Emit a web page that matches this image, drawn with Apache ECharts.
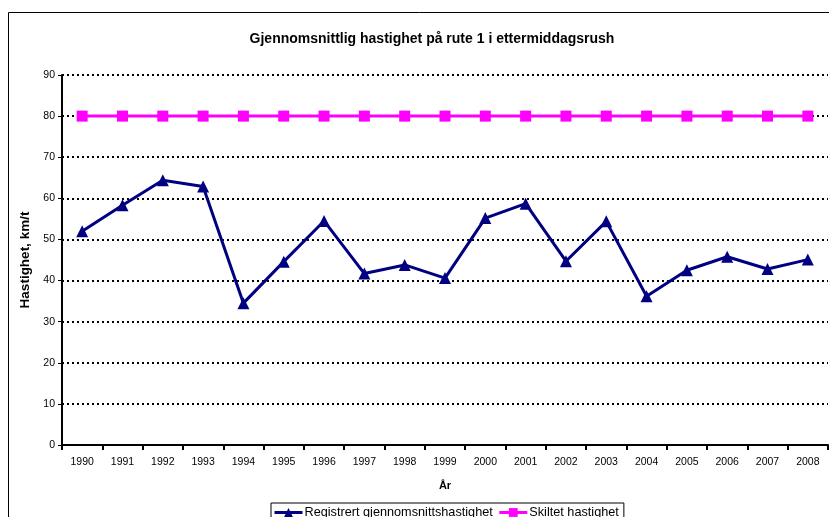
<!DOCTYPE html>
<html>
<head>
<meta charset="utf-8">
<script src="https://cdn.jsdelivr.net/npm/echarts@6/dist/echarts.min.js"></script>
<style>
  html, body { margin: 0; padding: 0; background: #fff; }
  #chart { width: 829px; height: 517px; }
</style>
</head>
<body>
<div id="chart"></div>
<script>
// years on the x axis
const years = ['1990', '1991', '1992', '1993', '1994', '1995', '1996', '1997', '1998', '1999',
  '2000', '2001', '2002', '2003', '2004', '2005', '2006', '2007', '2008']
// measured average speed, km/t
const registrert = [52, 58.3, 64.4, 62.9, 34.5, 44.6, 54.5, 41.7, 43.8, 40.6,
  55.2, 58.7, 44.7, 54.4, 36.2, 42.5, 45.8, 42.8, 45.1]
// posted speed limit
const skiltet = [80, 80, 80, 80, 80, 80, 80, 80, 80, 80, 80, 80, 80, 80, 80, 80, 80, 80, 80]

const font = 'Liberation Sans, Arial, sans-serif'
const myChart = echarts.init(document.getElementById('chart'), null, { renderer: 'canvas' })

myChart.setOption({
  animation: false,
  textStyle: { fontFamily: font },
  graphic: [{
    type: 'rect',
    shape: { x: 8.5, y: 12.5, width: 900, height: 600 },
    style: { fill: 'none', stroke: '#000', lineWidth: 1 },
    silent: true
  }],
  title: {
    text: 'Gjennomsnittlig hastighet på rute 1 i ettermiddagsrush',
    left: 427,
    top: 27,
    textAlign: 'center',
    textStyle: { fontSize: 14, fontWeight: 'bold', color: '#000', fontFamily: font }
  },
  grid: {
    left: 62,
    right: 1,
    top: 75,
    bottom: 72,
    containLabel: false
  },
  legend: {
    left: 271,
    top: 503,
    padding: [3, 5, 3, 2],
    itemGap: 5,
    itemWidth: 28,
    itemHeight: 11,
    borderColor: '#000',
    borderWidth: 1,
    lineStyle: { width: 3 },
    textStyle: { fontSize: 12.7, color: '#000', fontFamily: font, padding: [0, 0, 0, -3] },
    data: ['Registrert gjennomsnittshastighet', 'Skiltet hastighet']
  },
  xAxis: {
    type: 'category',
    data: years,
    boundaryGap: true,
    name: 'År',
    nameLocation: 'middle',
    nameGap: 35,
    nameTextStyle: { fontSize: 11, fontWeight: 'bold', color: '#000', fontFamily: font },
    axisLine: { lineStyle: { color: '#000', width: 2 } },
    axisTick: { show: true, length: 5, alignWithLabel: false, lineStyle: { color: '#000', width: 2 } },
    axisLabel: { fontSize: 10.5, color: '#000', margin: 12, interval: 0, fontFamily: font },
    splitLine: { show: false }
  },
  yAxis: {
    type: 'value',
    min: 0,
    max: 90,
    interval: 10,
    name: 'Hastighet, km/t',
    nameLocation: 'middle',
    nameRotate: 90,
    nameGap: 22,
    nameTextStyle: { fontSize: 13.5, fontWeight: 'bold', color: '#000', fontFamily: font },
    axisLine: { show: true, lineStyle: { color: '#000', width: 2 } },
    axisTick: { show: true, length: 4, lineStyle: { color: '#000', width: 1 } },
    axisLabel: { fontSize: 10.5, color: '#000', margin: 7, fontFamily: font },
    splitLine: { show: true, lineStyle: { color: '#000', width: 2, type: [2, 3] } }
  },
  series: [
    {
      name: 'Registrert gjennomsnittshastighet',
      type: 'line',
      data: registrert,
      color: '#000080',
      lineStyle: { color: '#000080', width: 3 },
      symbol: 'triangle',
      symbolSize: 12,
      itemStyle: { color: '#000080' },
      z: 3
    },
    {
      name: 'Skiltet hastighet',
      type: 'line',
      data: skiltet,
      color: '#FF00FF',
      lineStyle: { color: '#FF00FF', width: 3 },
      symbol: 'rect',
      symbolSize: 11,
      itemStyle: { color: '#FF00FF' },
      z: 3
    }
  ]
})
</script>
</body>
</html>
